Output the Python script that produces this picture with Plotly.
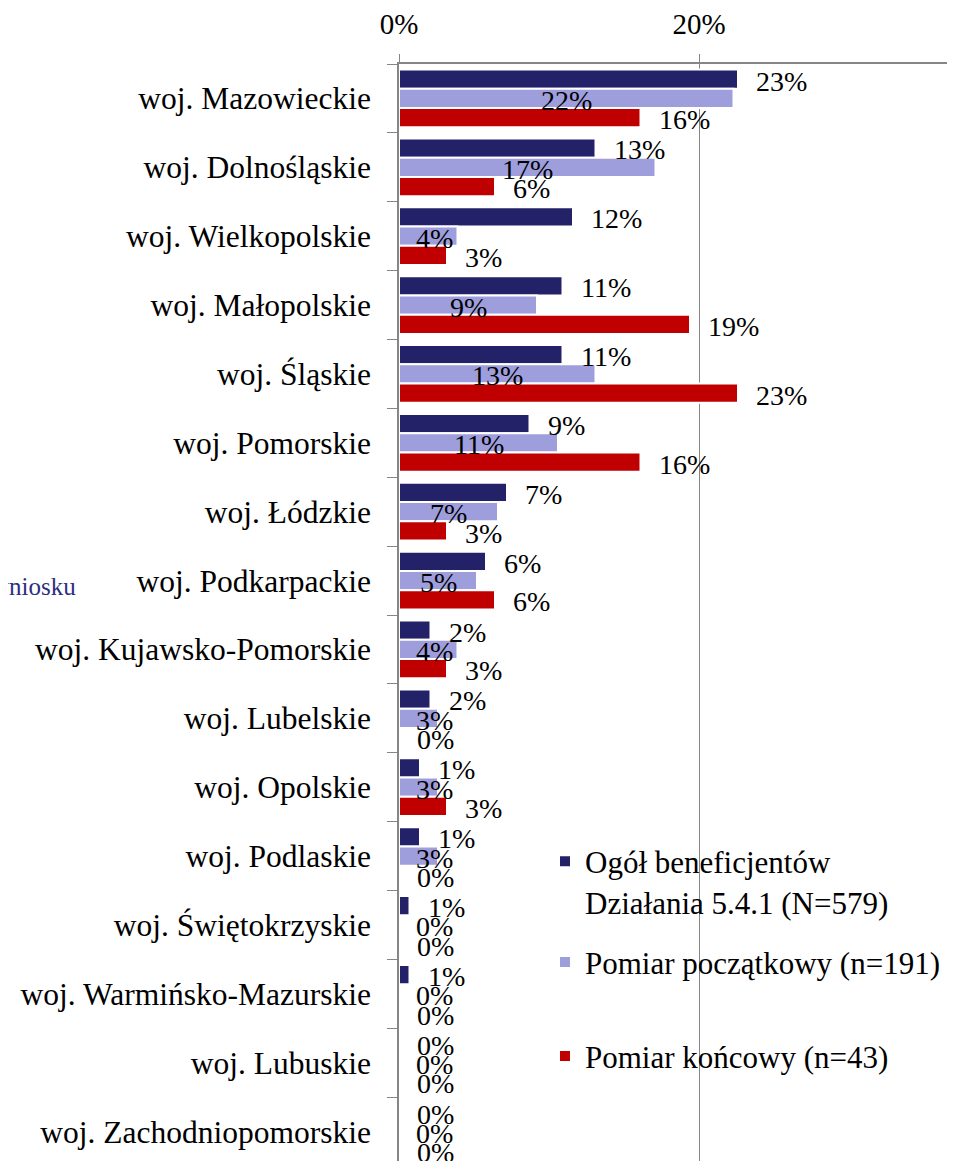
import plotly.graph_objects as go

categories = ["woj. Mazowieckie", "woj. Dolnośląskie", "woj. Wielkopolskie", "woj. Małopolskie",
              "woj. Śląskie", "woj. Pomorskie", "woj. Łódzkie", "woj. Podkarpackie",
              "woj. Kujawsko-Pomorskie", "woj. Lubelskie", "woj. Opolskie", "woj. Podlaskie",
              "woj. Świętokrzyskie", "woj. Warmińsko-Mazurskie", "woj. Lubuskie", "woj. Zachodniopomorskie"]
ogol = [22.6, 13.1, 11.6, 10.9, 10.9, 8.7, 7.2, 5.8, 2.1, 2.1, 1.4, 1.4, 0.7, 0.7, 0, 0]
poczatkowy = [22.3, 17.1, 3.9, 9.2, 13.1, 10.6, 6.6, 5.2, 3.9, 2.6, 2.6, 2.6, 0, 0, 0, 0]
koncowy = [16.1, 6.4, 3.2, 19.4, 22.6, 16.1, 3.2, 6.4, 3.2, 0, 3.2, 0, 0, 0, 0, 0]
series_names = ["Ogół beneficjentów<br>Działania 5.4.1 (N=579)",
                "Pomiar początkowy (n=191)",
                "Pomiar końcowy (n=43)"]
colors = ["#232268", "#9E9EDD", "#C00000"]
x_tickvals = [0, 20, 40]
x_ticktext = ["0%", "20%", "40%"]

FONT = "Liberation Serif"
OFF = 8  # page body margin
W, H = 955 - OFF, 1161 - OFF
ML, MT = 399 - OFF, 62 - OFF
PX_PER_PCT = 15.0
PX_PER_CAT = 69.0
BARGAP = 0.16
x_max = (W - ML) / PX_PER_PCT
y_bottom = -0.5 + (H - MT) / PX_PER_CAT

fig = go.Figure()
series = [ogol, poczatkowy, koncowy]
legends = ["legend", "legend2", "legend3"]
for vals, name, col, lg in zip(series, series_names, colors, legends):
    fig.add_trace(go.Bar(
        y=categories, x=vals, orientation="h", name=name,
        marker=dict(color=col, line=dict(color="white", width=2)),
        legend=lg, hoverinfo="skip"))

# data labels
bar_px = (1 - BARGAP) * PX_PER_CAT / 3
annotations = []
for si, vals in enumerate(series):
    yshift = (1 - si) * bar_px - 2
    for cat, v in zip(categories, vals):
        label = f"{round(v)}%"
        if si == 1:
            center_px = v * PX_PER_PCT / 2
            half_w = 18
            if center_px - half_w < 15:
                annotations.append(dict(x=0, y=cat, xref="x", yref="y", text=label,
                                        xanchor="left", xshift=15, yshift=yshift,
                                        showarrow=False, font=dict(family=FONT, size=28, color="black")))
            else:
                annotations.append(dict(x=v / 2, y=cat, xref="x", yref="y", text=label,
                                        xanchor="center", yshift=yshift,
                                        showarrow=False, font=dict(family=FONT, size=28, color="black")))
        else:
            annotations.append(dict(x=v, y=cat, xref="x", yref="y", text=label,
                                    xanchor="left", xshift=16, yshift=yshift,
                                    showarrow=False, font=dict(family=FONT, size=28, color="black")))

annotations.append(dict(x=(78 - OFF - ML) / (W - ML), y=(H + OFF - 585) / (H - MT), xref="paper", yref="paper",
                        text="wniosku", xanchor="right", yanchor="middle", showarrow=False,
                        font=dict(family=FONT, size=25, color="#2E2E7E")))

def legend_cfg(ytop):
    return dict(x=(545 - OFF - ML) / (W - ML), y=(H + OFF - ytop) / (H - MT), xanchor="left", yanchor="top",
                bgcolor="rgba(0,0,0,0)", borderwidth=0, valign="top",
                font=dict(family=FONT, size=31, color="black"))

fig.update_layout(
    width=W, height=H,
    margin=dict(l=ML, r=0, t=MT, b=0, pad=0),
    paper_bgcolor="white", plot_bgcolor="white",
    barmode="group", bargap=BARGAP, bargroupgap=0,
    showlegend=True,
    legend=legend_cfg(834), legend2=legend_cfg(935), legend3=legend_cfg(1029),
    annotations=annotations,
    font=dict(family=FONT, color="black"),
    xaxis=dict(side="top", range=[0, x_max], tickvals=x_tickvals, ticktext=x_ticktext,
               showgrid=True, gridcolor="#868686", gridwidth=1.3, zeroline=False,
               showline=True, linecolor="#868686", linewidth=1.5,
               ticks="outside", ticklen=8, tickcolor="#868686", tickwidth=1.3,
               tickfont=dict(family=FONT, size=29, color="black"), ticklabelstandoff=9),
    yaxis=dict(categoryorder="array", categoryarray=categories, range=[y_bottom, -0.5],
               showgrid=False, zeroline=False, showline=True, linecolor="#868686", linewidth=1.5,
               ticks="outside", ticklen=10, tickcolor="#868686", tickwidth=1.3, tickson="boundaries",
               tickfont=dict(family=FONT, size=31.5, color="black"), ticklabelstandoff=20),
)

fig.write_html("out.html")
